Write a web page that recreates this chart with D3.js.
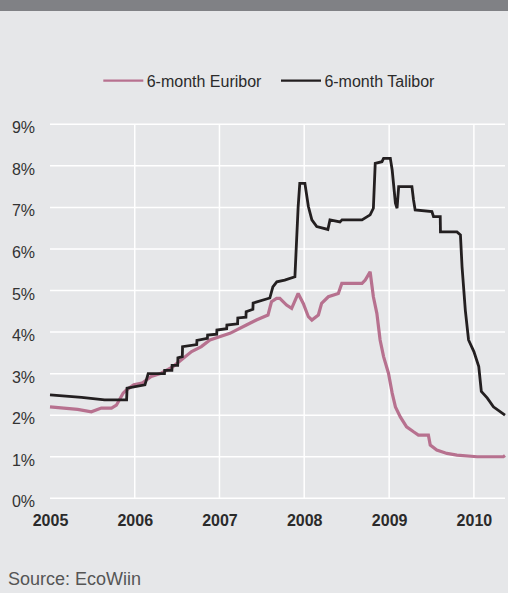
<!DOCTYPE html>
<html>
<head>
<meta charset="utf-8">
<script src="https://cdn.jsdelivr.net/npm/d3@7"></script>
<style>
  html, body { margin: 0; padding: 0; background: #e6e7e9; }
  svg { display: block; }
  text { font-family: "Liberation Sans", Arial, Helvetica, sans-serif; }
</style>
</head>
<body>
<svg id="chart" width="508" height="593"></svg>
<script>
// ---- Data ----
const seriesNames = ["6-month Euribor", "6-month Talibor"];
const yearTicks = ["2005", "2006", "2007", "2008", "2009", "2010"];
const yTickValues = [0, 1, 2, 3, 4, 5, 6, 7, 8, 9];

const euriborDates = ["2005-01-01","2005-04-30","2005-06-28","2005-08-10","2005-09-23","2005-10-14","2005-11-12","2005-11-27","2005-12-28","2006-02-01","2006-03-13","2006-04-25","2006-06-15","2006-07-20","2006-09-03","2006-10-15","2006-11-21","2007-02-15","2007-04-27","2007-06-09","2007-07-29","2007-08-13","2007-09-04","2007-09-18","2007-10-17","2007-11-08","2007-12-06","2007-12-28","2008-01-19","2008-02-03","2008-03-02","2008-03-16","2008-04-14","2008-05-27","2008-06-11","2008-09-06","2008-09-20","2008-10-11","2008-10-25","2008-11-09","2008-11-23","2008-12-08","2008-12-29","2009-01-14","2009-01-28","2009-02-18","2009-03-17","2009-04-16","2009-05-07","2009-06-19","2009-06-27","2009-07-25","2009-09-07","2009-10-20","2010-01-15","2010-05-08","2010-05-15"];
const euriborValues = [2.20,2.14,2.08,2.17,2.17,2.24,2.53,2.61,2.73,2.77,2.93,3.01,3.17,3.33,3.53,3.65,3.81,3.97,4.17,4.29,4.41,4.73,4.81,4.81,4.65,4.57,4.93,4.69,4.37,4.29,4.41,4.69,4.85,4.93,5.17,5.17,5.25,5.45,4.85,4.45,3.81,3.41,3.01,2.53,2.20,1.96,1.72,1.60,1.52,1.52,1.28,1.16,1.08,1.04,1.00,1.00,1.03];

const taliborDates = ["2005-01-01","2005-05-17","2005-08-24","2005-11-27","2005-11-29","2006-02-14","2006-02-28","2006-05-09","2006-05-10","2006-06-10","2006-06-11","2006-07-05","2006-07-06","2006-07-25","2006-07-26","2006-09-25","2006-09-26","2006-11-10","2006-11-11","2006-12-20","2006-12-21","2007-02-01","2007-02-02","2007-03-20","2007-03-21","2007-04-25","2007-04-26","2007-05-25","2007-05-26","2007-08-06","2007-08-19","2007-09-05","2007-10-09","2007-11-22","2007-12-06","2007-12-13","2008-01-04","2008-01-19","2008-02-03","2008-02-24","2008-04-12","2008-04-21","2008-06-03","2008-06-12","2008-09-06","2008-10-11","2008-10-25","2008-11-02","2008-12-01","2008-12-08","2009-01-06","2009-01-14","2009-01-28","2009-02-04","2009-02-11","2009-04-09","2009-04-16","2009-04-23","2009-07-04","2009-07-11","2009-08-09","2009-08-10","2009-10-20","2009-11-04","2009-11-11","2009-11-25","2009-12-09","2010-01-01","2010-01-22","2010-02-02","2010-02-28","2010-03-26","2010-05-15"];
const taliborValues = [2.49,2.43,2.37,2.37,2.65,2.73,3.00,3.00,3.08,3.08,3.20,3.20,3.38,3.41,3.65,3.70,3.80,3.85,3.93,3.95,4.05,4.08,4.17,4.20,4.34,4.36,4.49,4.55,4.70,4.82,5.09,5.21,5.25,5.33,7.02,7.58,7.58,7.02,6.70,6.54,6.47,6.70,6.65,6.70,6.70,6.82,6.98,8.06,8.10,8.18,8.18,7.90,7.10,6.98,7.50,7.50,7.18,6.94,6.90,6.78,6.78,6.41,6.41,6.34,5.57,4.53,3.81,3.53,3.17,2.57,2.41,2.20,2.00];

const seriesColors = ["#b7718f", "#231f20"];
const sourceText = "Source: EcoWiin";

// ---- Build ----
const parse = d3.timeParse("%Y-%m-%d");
const series = [
  { name: seriesNames[0], color: seriesColors[0], width: 3.2,
    data: euriborDates.map((d, i) => ({ date: parse(d), value: euriborValues[i] })) },
  { name: seriesNames[1], color: seriesColors[1], width: 2.8,
    data: taliborDates.map((d, i) => ({ date: parse(d), value: taliborValues[i] })) }
];

const svg = d3.select("#chart");
const W = 508, H = 593;

svg.append("rect").attr("width", W).attr("height", H).attr("fill", "#e6e7e9");
svg.append("rect").attr("width", W).attr("height", 11).attr("fill", "#808185");

const x = d3.scaleTime()
  .domain([parse("2005-01-01"), parse("2010-05-15")])
  .range([50, 505]);
const y = d3.scaleLinear().domain([0, 9]).range([498.3, 124.3]);

// horizontal gridlines
svg.append("g").selectAll("line").data(yTickValues).join("line")
  .attr("x1", 50).attr("x2", 505)
  .attr("y1", d => y(d)).attr("y2", d => y(d))
  .attr("stroke", "#ffffff").attr("stroke-width", 1.5);

// vertical gridlines at years (except first)
const yearDates = yearTicks.map(t => parse(t + "-01-01"));
svg.append("g").selectAll("line").data(yearDates.slice(1)).join("line")
  .attr("x1", d => x(d)).attr("x2", d => x(d))
  .attr("y1", y(9)).attr("y2", y(0))
  .attr("stroke", "#ffffff").attr("stroke-width", 1.5);

// y axis labels
const yAxis = d3.axisLeft(y).tickValues(yTickValues).tickFormat(d => d + "%").tickSize(0).tickPadding(0);
const gy = svg.append("g").attr("transform", "translate(35,0)").call(yAxis);
gy.select(".domain").remove();
gy.selectAll("text")
  .attr("font-size", 16).attr("fill", "#333333")
  .attr("font-family", "Liberation Sans, Arial, sans-serif")
  .attr("dy", null).attr("y", 8.5);

// x axis labels
const xAxis = d3.axisBottom(x).tickValues(yearDates).tickFormat(d3.timeFormat("%Y")).tickSize(0).tickPadding(0);
const gx = svg.append("g").attr("transform", "translate(0,0)").call(xAxis);
gx.select(".domain").remove();
gx.selectAll("text")
  .attr("font-size", 16).attr("font-weight", "bold").attr("fill", "#2b2b2b")
  .attr("font-family", "Liberation Sans, Arial, sans-serif")
  .attr("dy", null).attr("y", 525.7);

// lines
const line = d3.line().x(d => x(d.date)).y(d => y(d.value));
svg.append("g").selectAll("path").data(series).join("path")
  .attr("d", d => line(d.data))
  .attr("fill", "none")
  .attr("stroke", d => d.color)
  .attr("stroke-width", d => d.width)
  .attr("stroke-linejoin", "miter")
  .attr("stroke-miterlimit", 2);

// legend
const legendX = [103.3, 281];
const lg = svg.append("g").selectAll("g").data(series).join("g")
  .attr("transform", (d, i) => `translate(${legendX[i]},80.7)`);
lg.append("line").attr("x1", 0).attr("x2", 40).attr("y1", 0).attr("y2", 0)
  .attr("stroke", d => d.color).attr("stroke-width", 2.2);
lg.append("text").attr("x", 43.4).attr("y", 5.8)
  .attr("font-size", 16).attr("fill", "#2b2b2b")
  .text(d => d.name);

// source
svg.append("text").attr("x", 8).attr("y", 585)
  .attr("font-size", 18).attr("fill", "#555555")
  .text(sourceText);
</script>
</body>
</html>
